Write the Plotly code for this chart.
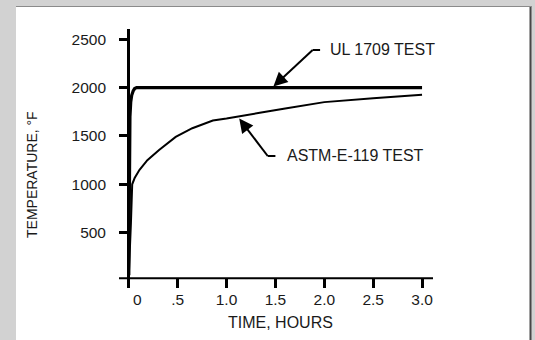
import plotly.graph_objects as go

# ---- data ----
ul_time = [0.0, 0.004, 0.012, 0.02, 0.03, 0.045, 0.06, 0.08, 3.0]
ul_temp = [60, 900, 1700, 1850, 1920, 1965, 1990, 2000, 2000]

astm_time = [0.0, 0.012, 0.022, 0.035, 0.06, 0.11, 0.19, 0.31, 0.48, 0.65,
             0.86, 1.0, 1.13, 1.34, 1.6, 2.0, 2.5, 3.0]
astm_temp = [60, 300, 600, 1000, 1065, 1150, 1250, 1355, 1490, 1580,
             1660, 1680, 1700, 1740, 1785, 1850, 1890, 1925]

x_tickvals = [0, 0.5, 1.0, 1.5, 2.0, 2.5, 3.0]
x_ticktext = ["\u00a0\u00a0\u00a0\u00a00", ".5", "1.0", "1.5", "2.0", "2.5", "3.0"]
y_tickvals = [500, 1000, 1500, 2000, 2500]
y_ticktext = ["500", "1000", "1500", "2000", "2500"]

x_title = "TIME, HOURS"
y_title = "TEMPERATURE, \u00b0F"
ul_label = "UL 1709 TEST"
astm_label = "ASTM-E-119 TEST"

# callout geometry (data units): arrow tip, leader bend, leader end, text start
ul_tip, ul_bend, ul_lead_end, ul_text_at = (1.479, 2012), (1.881, 2389), 1.957, 2.04
astm_tip, astm_bend, astm_lead_end, astm_text_at = (1.13, 1680), (1.421, 1293), 1.50, 1.597

FONT = "Arial, Liberation Sans, Helvetica, sans-serif"
TXT = "#1a1a1a"

# layout geometry (pixels)
W, H = 535, 340
L, R, T, B = 119, 102, 29, 52
PW, PH = W - L - R, H - T - B
XR = [-0.1, 3.112]
YR = [-72, 2606]


def px_x(px):
    return (px - L) / PW


def px_y(py):
    return (H - B - py) / PH


def data_to_px(x, y):
    return (L + (x - XR[0]) / (XR[1] - XR[0]) * PW,
            T + (YR[1] - y) / (YR[1] - YR[0]) * PH)


fig = go.Figure()
fig.add_trace(go.Scatter(x=astm_time, y=astm_temp, mode="lines",
                         line=dict(color="black", width=2), hoverinfo="skip"))
fig.add_trace(go.Scatter(x=ul_time, y=ul_temp, mode="lines",
                         line=dict(color="black", width=3.2), hoverinfo="skip"))

shapes = [
    # white panel
    dict(type="rect", xref="paper", yref="paper", layer="below",
         x0=px_x(16), x1=px_x(530), y0=px_y(345), y1=px_y(7),
         fillcolor="white", line=dict(width=0)),
    # right dark edge
    dict(type="line", xref="paper", yref="paper", layer="below",
         x0=px_x(530.5), x1=px_x(530.5), y0=px_y(345), y1=px_y(6),
         line=dict(color="#474747", width=2)),
    # top edge
    dict(type="line", xref="paper", yref="paper", layer="below",
         x0=px_x(16), x1=px_x(531), y0=px_y(6.5), y1=px_y(6.5),
         line=dict(color="#8a8a8a", width=1)),
    # horizontal axis line
    dict(type="line", xref="paper", yref="y", x0=0, x1=1, y0=28, y1=28,
         line=dict(color="black", width=2)),
]

annotations = [
    dict(x=px_x(32), y=px_y(175), xref="paper", yref="paper", text=y_title,
         textangle=-90, showarrow=False, xanchor="center", yanchor="middle",
         font=dict(family=FONT, size=14, color=TXT)),
    dict(x=px_x(280), y=px_y(322), xref="paper", yref="paper", text=x_title,
         showarrow=False, xanchor="center", yanchor="middle",
         font=dict(family=FONT, size=16, color=TXT)),
]
for tip, bend, lead_end, text_at, label in [
        (ul_tip, ul_bend, ul_lead_end, ul_text_at, ul_label),
        (astm_tip, astm_bend, astm_lead_end, astm_text_at, astm_label)]:
    # horizontal leader
    shapes.append(dict(type="line", xref="x", yref="y", x0=bend[0], x1=lead_end,
                       y0=bend[1], y1=bend[1], line=dict(color="black", width=2)))
    # diagonal leader (stops short of the tip, arrowhead covers the rest)
    fx = 0.8
    shapes.append(dict(type="line", xref="x", yref="y", x0=bend[0],
                       x1=bend[0] + fx * (tip[0] - bend[0]),
                       y0=bend[1], y1=bend[1] + fx * (tip[1] - bend[1]),
                       line=dict(color="black", width=2)))
    tpx = data_to_px(*tip)
    bpx = data_to_px(*bend)
    dx, dy = bpx[0] - tpx[0], bpx[1] - tpx[1]
    n = (dx * dx + dy * dy) ** 0.5
    annotations.append(dict(x=tip[0], y=tip[1], xref="x", yref="y",
                            ax=dx / n * 16, ay=dy / n * 16,
                            text="", showarrow=True, arrowhead=2, arrowsize=1.4,
                            arrowwidth=2, arrowcolor="black",
                            standoff=0, startstandoff=0))
    annotations.append(dict(x=text_at, y=bend[1], xref="x", yref="y", text=label,
                            showarrow=False, xanchor="left", yanchor="middle",
                            font=dict(family=FONT, size=16, color=TXT)))

fig.update_layout(
    width=W, height=H,
    margin=dict(l=L, r=R, t=T, b=B, autoexpand=False),
    paper_bgcolor="#d2d2d2",
    plot_bgcolor="rgba(0,0,0,0)",
    showlegend=False,
    font=dict(family=FONT, size=15, color=TXT),
    shapes=shapes,
    annotations=annotations,
    xaxis=dict(range=XR, tickvals=x_tickvals, ticktext=x_ticktext,
               ticks="inside", ticklen=10, tickwidth=3, tickcolor="black",
               showgrid=False, showline=False,
               zeroline=True, zerolinecolor="black", zerolinewidth=3,
               tickfont=dict(family=FONT, size=15.5, color=TXT),
               fixedrange=True),
    yaxis=dict(range=YR, tickvals=y_tickvals, ticktext=y_ticktext,
               ticks="inside", ticklen=10, tickwidth=3, tickcolor="black",
               showgrid=False, showline=False, zeroline=False,
               tickfont=dict(family=FONT, size=15.5, color=TXT),
               ticklabelstandoff=12,
               fixedrange=True),
)

fig.write_html("out.html", config={"displayModeBar": False},
               post_script="document.body.style.margin='0';"
                           "document.body.style.overflow='hidden';"
                           "document.body.style.background='#d2d2d2';")
